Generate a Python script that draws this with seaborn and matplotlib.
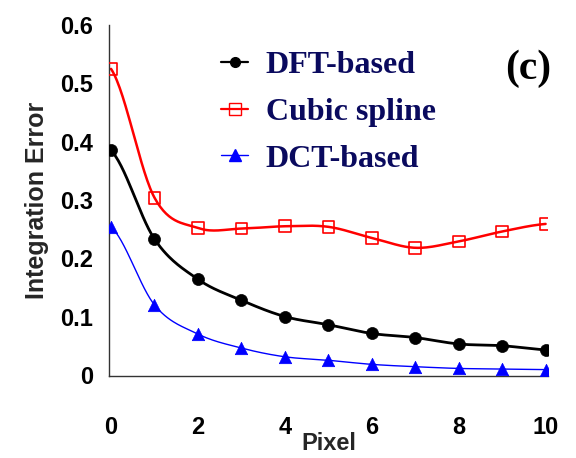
import numpy as np
import pandas as pd
import matplotlib
matplotlib.use("Agg")
import matplotlib.pyplot as plt
import seaborn as sns
from matplotlib.lines import Line2D

pixel = [0, 1, 2, 3, 4, 5, 6, 7, 8, 9, 10]
dft_based = [0.385, 0.233, 0.164, 0.128, 0.100, 0.086, 0.071, 0.064, 0.053, 0.050, 0.043]
cubic_spline = [0.525, 0.304, 0.252, 0.251, 0.255, 0.254, 0.235, 0.218, 0.229, 0.246, 0.259]
dct_based = [0.254, 0.120, 0.070, 0.046, 0.031, 0.025, 0.018, 0.014, 0.011, 0.010, 0.009]
series_names = ["DFT-based", "Cubic spline", "DCT-based"]
x_ticks = [0, 2, 4, 6, 8, 10]
y_ticks = [0, 0.1, 0.2, 0.3, 0.4, 0.5, 0.6]
y_ticklabels = ["0", "0.1", "0.2", "0.3", "0.4", "0.5", "0.6"]


def smooth(xs, ys, n=30):
    # Catmull-Rom smoothing of the drawn line (Excel-style smoothed line)
    xs = np.asarray(xs, float)
    ys = np.asarray(ys, float)
    out_x, out_y = [], []
    m = len(xs)
    for i in range(m - 1):
        p0 = ys[max(i - 1, 0)]
        p1 = ys[i]
        p2 = ys[i + 1]
        p3 = ys[min(i + 2, m - 1)]
        t = np.linspace(0, 1, n, endpoint=(i == m - 2))
        yy = 0.5 * ((2 * p1) + (-p0 + p2) * t + (2 * p0 - 5 * p1 + 4 * p2 - p3) * t ** 2
                    + (-p0 + 3 * p1 - 3 * p2 + p3) * t ** 3)
        xx = xs[i] + (xs[i + 1] - xs[i]) * t
        out_x.append(xx)
        out_y.append(yy)
    return np.concatenate(out_x), np.concatenate(out_y)


sns.set_style("white")
plt.rcParams["font.family"] = ["Liberation Sans", "DejaVu Sans"]

fig = plt.figure(figsize=(5.76, 4.58), dpi=100)
ax = fig.add_axes([0.189, 0.179, 0.762, 0.766])

styles = [
    dict(values=dft_based, color="black", marker="o", lw=2.0, ms=75, fc="black"),
    dict(values=cubic_spline, color="red", marker="s", lw=1.8, ms=70, fc="none"),
    dict(values=dct_based, color="blue", marker="^", lw=1.0, ms=80, fc="blue"),
]

for name, st in zip(series_names, styles):
    sx, sy = smooth(pixel, st["values"])
    sns.lineplot(x=sx, y=sy, ax=ax, color=st["color"], lw=st["lw"], sort=False, estimator=None)
    df = pd.DataFrame({"x": pixel, "y": st["values"]})
    if st["fc"] == "none":
        sns.scatterplot(data=df, x="x", y="y", ax=ax, marker=st["marker"], s=st["ms"],
                        facecolors="none", edgecolor=st["color"], linewidth=1.2, zorder=3)
    else:
        sns.scatterplot(data=df, x="x", y="y", ax=ax, marker=st["marker"], s=st["ms"],
                        color=st["fc"], edgecolor=st["color"], linewidth=0.5, zorder=3)

ax.set_xticks(x_ticks)
ax.set_xticklabels([str(v) for v in x_ticks])
ax.set_yticks(y_ticks)
ax.set_yticklabels(y_ticklabels)
ax.set_xlim(-0.05, 10.05)
ax.set_ylim(-0.002, 0.6)

for s in ["top", "right"]:
    ax.spines[s].set_visible(False)
for s in ["left", "bottom"]:
    ax.spines[s].set_color("#333333")
    ax.spines[s].set_linewidth(1.0)

ax.tick_params(axis="x", direction="out", length=7, width=1, pad=22, labelsize=17, colors="#333333",
               labelcolor="black")
ax.tick_params(axis="y", direction="out", length=7, width=1, pad=4.5, labelsize=17, colors="#333333",
               labelcolor="black")
for lab in ax.get_xticklabels() + ax.get_yticklabels():
    lab.set_fontweight("bold")

ax.set_xlabel("Pixel", fontsize=17, fontweight="bold", labelpad=-5)
ax.set_ylabel("Integration Error", fontsize=18, fontweight="bold", labelpad=8)

handles = [
    Line2D([], [], color="black", lw=1.6, marker="o", markersize=7, markerfacecolor="black"),
    Line2D([], [], color="red", lw=1.6, marker="s", markersize=8, markerfacecolor="none"),
    Line2D([], [], color="blue", lw=1.0, marker="^", markersize=8, markerfacecolor="blue"),
]
leg = ax.legend(handles, series_names, loc="upper left", bbox_to_anchor=(0.19, 1.01),
                frameon=False, handlelength=0.85, handletextpad=0.55, labelspacing=0.55,
                prop={"family": "Liberation Serif", "weight": "bold", "size": 23})
for t in leg.get_texts():
    t.set_color("#0a0a5e")

ax.text(1.009, 0.877, "(c)", transform=ax.transAxes, ha="right", va="center",
        fontsize=30, fontweight="bold", family="Liberation Serif", color="black")

fig.savefig("out.png", dpi=100)
